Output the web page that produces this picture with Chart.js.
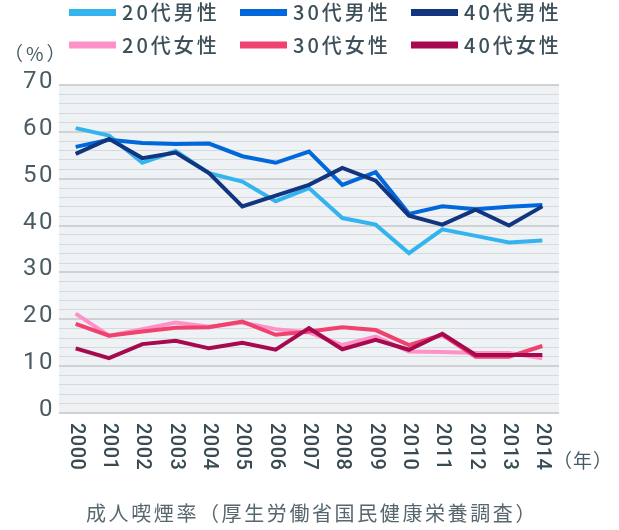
<!DOCTYPE html>
<html>
<head>
<meta charset="utf-8">
<script src="https://cdn.jsdelivr.net/npm/chart.js@4/dist/chart.umd.min.js"></script>
<style>
  html,body{margin:0;padding:0;background:#fff;}
  #wrap{width:619px;height:530px;position:relative;}
</style>
</head>
<body>
<div id="wrap"><canvas id="c" width="619" height="530"></canvas></div>
<script>
const years = ['2000','2001','2002','2003','2004','2005','2006','2007','2008','2009','2010','2011','2012','2013','2014'];
const seriesNames = ['20代男性','30代男性','40代男性','20代女性','30代女性','40代女性'];
const male20   = [60.8,59.2,53.4,55.9,51.2,49.4,45.2,48.0,41.6,40.2,34.1,39.2,37.8,36.4,36.8];
const male30   = [56.8,58.3,57.6,57.4,57.5,54.8,53.4,55.8,48.7,51.4,42.5,44.1,43.5,44.0,44.4];
const male40   = [55.3,58.5,54.4,55.6,51.2,44.1,46.4,48.7,52.3,49.6,42.1,40.2,43.4,40.0,44.1];
const female20 = [21.2,16.5,17.9,19.3,18.4,19.3,17.9,17.2,14.5,16.3,13.1,13.0,12.8,12.8,11.7];
const female30 = [19.0,16.5,17.4,18.2,18.3,19.5,16.7,17.4,18.3,17.7,14.5,16.7,12.0,12.0,14.3];
const female40 = [13.8,11.7,14.7,15.4,13.8,15.0,13.5,18.1,13.6,15.6,13.5,16.9,12.4,12.4,12.4];
const yTickLabels = ['0','10','20','30','40','50','60','70'];
const yUnit = '（%）';
const xUnit = '（年）';
const caption = '成人喫煙率（厚生労働省国民健康栄養調査）';

const colors = ['#34b4ee','#0068db','#12357f','#ff91c9','#ef426e','#a7094f'];
const dataArr = [male20, male30, male40, female20, female30, female40];

const TEXT = '#455a64';
const CJK = '"Noto Sans CJK JP", "Noto Sans", sans-serif';
const NUM = 'Roboto, "Liberation Sans", sans-serif';

const datasets = dataArr.map((d, i) => ({
  label: seriesNames[i],
  data: d,
  borderColor: colors[i],
  backgroundColor: colors[i],
  borderWidth: 4,
  pointRadius: 0,
  pointHoverRadius: 0,
  tension: 0,
  fill: false,
  order: 6 - i
}));

function spaced(ctx, px) { if ('letterSpacing' in ctx) ctx.letterSpacing = px + 'px'; }

const bgPlugin = {
  id: 'bg',
  beforeDraw(chart) {
    const {ctx, chartArea: a} = chart;
    ctx.save();
    ctx.fillStyle = '#eef2f5';
    ctx.fillRect(a.left, a.top, a.right - a.left, a.bottom - a.top);
    ctx.restore();
  }
};

const decorPlugin = {
  id: 'decor',
  afterDraw(chart) {
    const ctx = chart.ctx;
    const xs = chart.scales.x, ys = chart.scales.y;
    ctx.save();
    // y tick labels
    spaced(ctx, 2.5);
    ctx.fillStyle = '#4a5b63';
    ctx.font = '24px ' + NUM;
    ctx.textAlign = 'right';
    ctx.textBaseline = 'middle';
    yTickLabels.forEach((t, i) => {
      ctx.fillText(t, 55, ys.getPixelForValue(i * 10) - 3);
    });
    // x labels, rotated to read top-to-bottom
    spaced(ctx, 0.5);
    ctx.fillStyle = '#3a4a52';
    ctx.font = '500 20px ' + NUM;
    ctx.textAlign = 'left';
    ctx.textBaseline = 'middle';
    years.forEach((y, i) => {
      const px = xs.getPixelForValue(i);
      ctx.save();
      ctx.translate(px, xs.top + 10);
      ctx.rotate(Math.PI / 2);
      ctx.fillText(y, 0, 0);
      ctx.restore();
    });
    // units
    ctx.fillStyle = TEXT;
    spaced(ctx, 1);
    ctx.font = '19px ' + CJK;
    ctx.textAlign = 'left';
    ctx.fillText(xUnit, 553, 461);
    spaced(ctx, 3);
    ctx.fillText(yUnit, 4, 54);
    // caption
    spaced(ctx, 2.6);
    ctx.fillStyle = '#56676e';
    ctx.textAlign = 'center';
    ctx.font = '20px ' + CJK;
    ctx.fillText(caption, 312, 513);
    // legend
    const cols = [69, 240, 411];
    const rows = [12.5, 45];
    spaced(ctx, 3);
    ctx.font = '500 20px ' + CJK;
    ctx.textAlign = 'left';
    datasets.forEach((ds, i) => {
      const cx = cols[i % 3], cy = rows[Math.floor(i / 3)];
      ctx.fillStyle = ds.borderColor;
      ctx.fillRect(cx, cy - 3.5, 47, 7);
      ctx.fillStyle = '#3d5059';
      ctx.fillText(ds.label, cx + 53, cy);
    });
    ctx.restore();
  }
};

new Chart(document.getElementById('c'), {
  type: 'line',
  data: { labels: years, datasets },
  options: {
    responsive: false,
    animation: false,
    devicePixelRatio: 1,
    layout: { padding: { top: 85, right: 60, left: 0, bottom: 0 } },
    plugins: { legend: { display: false }, tooltip: { enabled: false } },
    scales: {
      x: {
        offset: true,
        grid: { display: false, drawTicks: false },
        border: { display: false },
        ticks: { display: false },
        afterFit(s) { s.height = 117; }
      },
      y: {
        min: 0, max: 70,
        border: { display: false },
        grid: {
          drawTicks: false,
          color: c => (c.tick && c.tick.value % 10 === 0) ? '#cfd2d4' : '#d6dadd',
          lineWidth: c => (c.tick && c.tick.value % 10 === 0) ? 2 : 1
        },
        ticks: {
          stepSize: 2,
          autoSkip: false,
          display: false
        },
        afterFit(s) { s.width = 59; }
      }
    }
  },
  plugins: [bgPlugin, decorPlugin]
});
</script>
</body>
</html>
